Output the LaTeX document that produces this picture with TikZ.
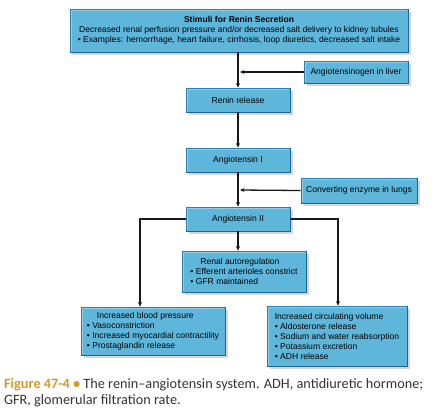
\documentclass[tikz,border=0pt]{standalone}
\usepackage{fontspec}
\usetikzlibrary{arrows.meta,shadows}
\newfontfamily\boxfnt{Liberation Sans}
\newfontfamily\capfnt{Carlito}
\definecolor{boxfill}{HTML}{5FB6DB}
\definecolor{boxedge}{HTML}{2B7DAE}
\definecolor{boxdark}{HTML}{1C6696}
\definecolor{boxlight}{HTML}{8FCDE8}
\definecolor{figgold}{HTML}{D4982A}
\definecolor{captext}{HTML}{333333}
\tikzset{
  bluebox/.style={draw=boxedge, line width=0.7bp, fill=boxfill,
    drop shadow={shadow xshift=2.5bp, shadow yshift=-2.5bp, fill=black!16, opacity=1},
    inner sep=0pt, font=\boxfnt\fontsize{8.6}{10}\selectfont, text=black},
  leftbox/.style={bluebox, align=left},
  darkedge/.style={draw=boxdark, line width=1.6bp},
  flow/.style={draw=black!90, line width=1.3bp, -{Stealth[length=4.5bp,width=4bp]}},
  captxt/.style={anchor=base west, inner sep=0pt, font=\capfnt\fontsize{14.3}{16}\selectfont, text=captext}
}
\begin{document}
\begin{tikzpicture}[x=1bp,y=-1bp]
\useasboundingbox (0,0) rectangle (438,409);
\node[bluebox, minimum width=338bp, minimum height=43bp, align=center] (stim) at (239,30.5)
  {\textbf{Stimuli for Renin Secretion}\\Decreased renal perfusion pressure and/or decreased salt delivery to kidney tubules\\• Examples: hemorrhage, heart failure, cirrhosis, loop diuretics, decreased salt intake};
\node[bluebox, minimum width=104bp, minimum height=22bp] (agen) at (356,72) {Angiotensinogen in liver};
\node[bluebox, minimum width=104bp, minimum height=24bp] (renin) at (238,100) {Renin release};
\node[bluebox, minimum width=104bp, minimum height=24bp] (ang1) at (238,160) {Angiotensin I};
\node[bluebox, minimum width=116bp, minimum height=25bp] (ace) at (359,190.5) {Converting enzyme in lungs};
\node[bluebox, minimum width=104bp, minimum height=24bp] (ang2) at (238,219) {Angiotensin II};
\node[leftbox, minimum width=124bp, minimum height=41bp] (renal) at (244,271.5)
  {\hspace*{10bp}Renal autoregulation\\• Efferent arterioles constrict\\• GFR maintained};
\node[leftbox, minimum width=144bp, minimum height=48bp] (bp) at (153,331)
  {\hspace*{10bp}Increased blood pressure\\• Vasoconstriction\\• Increased myocardial contractility\\• Prostaglandin release};
\node[leftbox, minimum width=140bp, minimum height=60bp] (vol) at (337,336)
  {Increased circulating volume\\• Aldosterone release\\• Sodium and water reabsorption\\• Potassium excretion\\• ADH release};
\foreach \n in {stim,agen,renin,ang1,ace,ang2,renal,bp,vol}{
  \draw[boxlight, line width=0.6bp] ([shift={(1.2bp,1.2bp)}]\n.south west) -- ([shift={(1.2bp,-1.2bp)}]\n.north west) -- ([shift={(-1.2bp,-1.2bp)}]\n.north east);
  \draw[darkedge] (\n.north east) -- (\n.south east) -- (\n.south west);
}
\coordinate (j1) at (240,72);
\coordinate (j2) at (240,190);
\coordinate (lb) at (140,219);
\coordinate (rb) at (338,219);
\draw[flow] (stim.south -| renin.north) -- (renin.north);
\draw[flow] (agen.west) -- (j1);
\draw[flow] (renin.south) -- (ang1.north);
\draw[flow] (ang1.south) -- (ang2.north);
\draw[flow] (ace.west) -- (j2);
\draw[flow] (ang2.south) -- (ang2.south |- renal.north);
\draw[flow] (ang2.west) -- (lb) -- (lb |- bp.north);
\draw[flow] (ang2.east) -- (rb) -- (rb |- vol.north);
\node[captxt] (cap1) at (4,388.5) {{\color{figgold}\textbf{Figure 47-4 •}} The renin–angiotensin system. ADH, antidiuretic hormone;};
\node[captxt] (cap2) at (4,404) {GFR, glomerular filtration rate.};
\end{tikzpicture}
\end{document}
